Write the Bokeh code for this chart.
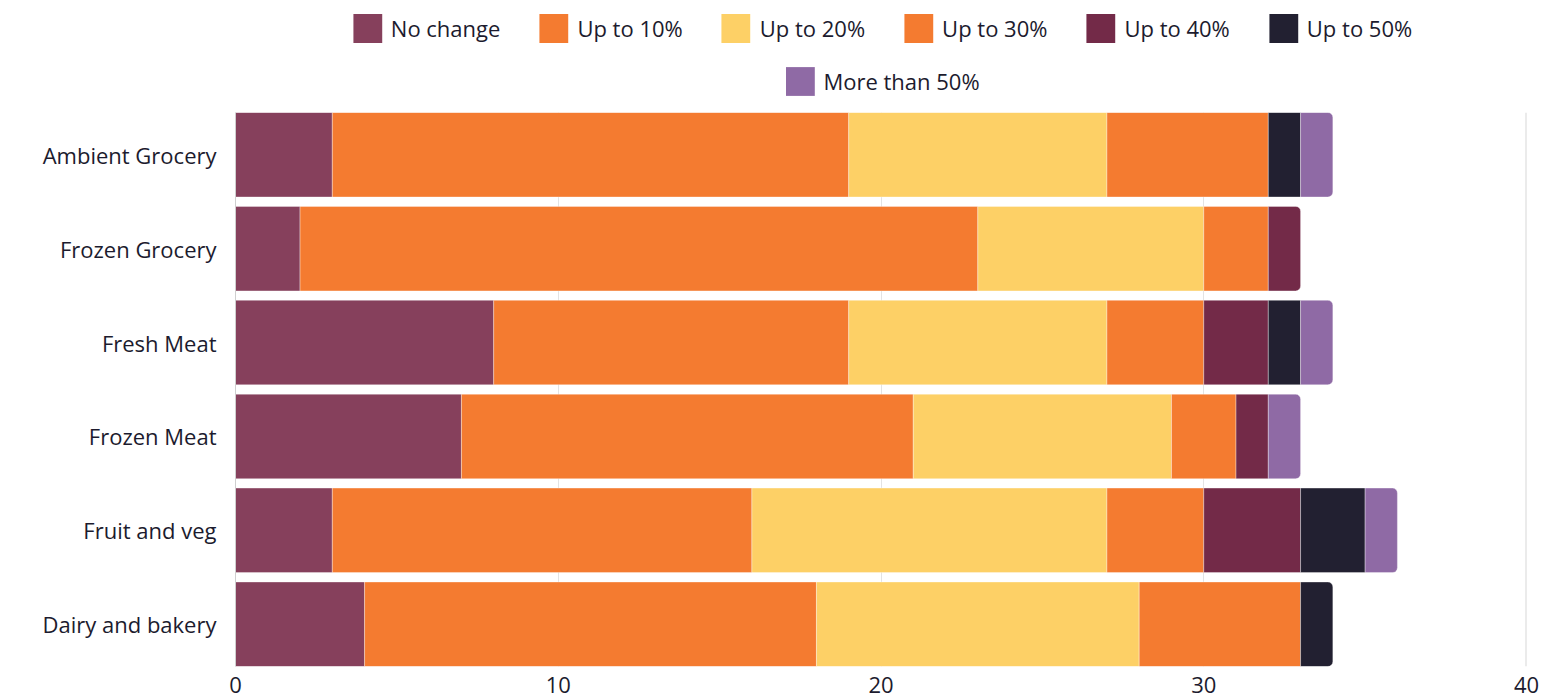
import numpy as np
from bokeh.plotting import figure
from bokeh.layouts import column
from bokeh.models import ColumnDataSource, Legend, LegendItem, Range1d, FactorRange, Span, FixedTicker
from bokeh.embed import file_html
from bokeh.resources import INLINE

categories = ["Ambient Grocery", "Frozen Grocery", "Fresh Meat", "Frozen Meat",
              "Fruit and veg", "Dairy and bakery"]
series_names = ["No change", "Up to 10%", "Up to 20%", "Up to 30%", "Up to 40%",
                "Up to 50%", "More than 50%"]
no_change = [3, 2, 8, 7, 3, 4]
up_to_10 = [16, 21, 11, 14, 13, 14]
up_to_20 = [8, 7, 8, 8, 11, 10]
up_to_30 = [5, 2, 3, 2, 3, 5]
up_to_40 = [0, 1, 2, 1, 3, 0]
up_to_50 = [1, 0, 1, 0, 2, 1]
more_than_50 = [1, 0, 1, 1, 1, 0]
series_colors = ["#86405c", "#f47b30", "#fdd066", "#f47b30", "#732a48", "#222031", "#8f6aa5"]
x_ticks = [0, 10, 20, 30, 40]
x_max = 40

FONT = "Open Sans"
TEXT = "#1c1b2e"
W = 1544
LEG_H = 104
MAIN_H = 699 - LEG_H
BAR_H = 0.9

values = [no_change, up_to_10, up_to_20, up_to_30, up_to_40, up_to_50, more_than_50]
n = len(categories)
last_idx = [max(s for s in range(len(values)) if values[s][i] > 0) for i in range(n)]

# ---- main chart ----
p = figure(width=W, height=MAIN_H, output_backend="svg", toolbar_location=None,
           y_range=FactorRange(*categories[::-1], range_padding=-(1 - BAR_H) / n,
                               range_padding_units="percent"),
           x_range=Range1d(0, x_max),
           min_border_left=235, min_border_right=18, min_border_top=8, min_border_bottom=33)
p.outline_line_color = None
p.ygrid.grid_line_color = None
p.xgrid.grid_line_color = "#e3e3e3"
p.xgrid.grid_line_width = 1
p.xaxis.ticker = FixedTicker(ticks=x_ticks)

cum = np.zeros(n)
for si, (name, vals, col) in enumerate(zip(series_names, values, series_colors)):
    vals = np.array(vals, dtype=float)
    left = cum.copy()
    right = cum + vals
    cum = right
    main_rows = [i for i in range(n) if vals[i] > 0 and last_idx[i] != si]
    last_rows = [i for i in range(n) if last_idx[i] == si]
    if main_rows:
        src = ColumnDataSource(dict(y=[categories[i] for i in main_rows],
                                    left=[left[i] for i in main_rows],
                                    right=[right[i] for i in main_rows]))
        p.hbar(y="y", left="left", right="right", height=BAR_H, source=src,
               fill_color=col, line_color="white", line_alpha=0.35, line_width=1)
    if last_rows:
        src = ColumnDataSource(dict(y=[categories[i] for i in last_rows],
                                    left=[left[i] for i in last_rows],
                                    right=[right[i] for i in last_rows]))
        p.hbar(y="y", left="left", right="right", height=BAR_H, source=src,
               fill_color=col, line_color="white", line_alpha=0.35, line_width=1,
               border_radius=(0, 5, 5, 0))

p.add_layout(Span(location=x_max, dimension="height", line_color="#d8d8d8", line_width=2))

for ax in (p.xaxis, p.yaxis):
    ax.major_label_text_font = FONT
    ax.major_label_text_font_size = "22px"
    ax.major_label_text_color = TEXT
    ax.major_tick_line_color = None
    ax.minor_tick_line_color = None
    ax.major_tick_out = 0
    ax.minor_tick_out = 0
p.xaxis.axis_line_color = None
p.xaxis.major_label_standoff = 10
p.yaxis.axis_line_color = "#cfcfcf"
p.yaxis.major_label_standoff = 19

# ---- legend strip ----
lf = figure(width=W, height=LEG_H, output_backend="svg", toolbar_location=None,
            x_range=Range1d(0, 1), y_range=Range1d(0, 1),
            x_axis_type=None, y_axis_type=None,
            min_border_left=235, min_border_right=18, min_border_top=0, min_border_bottom=0)
lf.outline_line_color = None
lf.grid.visible = False

items = []
for name, col in zip(series_names, series_colors):
    # zero-width swatch source: only the legend shows it
    r = lf.hbar(y=[0], left=[0], right=[0], height=0.0, fill_color=col, line_color=None)
    items.append(LegendItem(label=name, renderers=[r]))

def make_legend(its, loc, margin):
    return Legend(items=its, orientation="horizontal", location=loc,
                  glyph_width=36, glyph_height=36, label_text_font=FONT,
                  label_text_font_size="22px", label_text_color=TEXT,
                  label_standoff=6, spacing=35, padding=0, margin=margin,
                  border_line_color=None, background_fill_alpha=0)

lf.add_layout(make_legend(items[:6], "top_center", 10), "center")
lf.add_layout(make_legend(items[6:], "bottom_center", 5), "center")

layout = column(lf, p, spacing=0)
open("out.html", "w").write(file_html(layout, INLINE))
